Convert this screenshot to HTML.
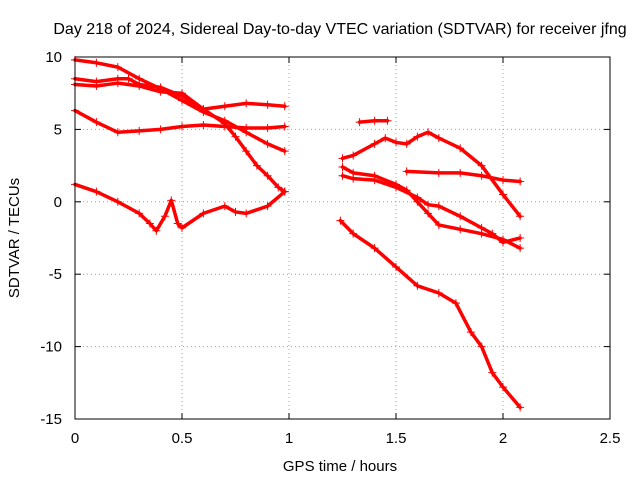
<!DOCTYPE html>
<html><head><meta charset="utf-8"><style>
body{margin:0;background:#fff}
svg{display:block;font-family:"Liberation Sans",sans-serif}
</style></head><body>
<svg id="chart" width="640" height="480" viewBox="0 0 640 480" xmlns="http://www.w3.org/2000/svg">
<rect width="640" height="480" fill="#fff"/>
<text x="340" y="34" font-size="16" text-anchor="middle">Day 218 of 2024, Sidereal Day-to-day VTEC variation (SDTVAR) for receiver jfng</text>
<text x="340" y="471" font-size="15" text-anchor="middle">GPS time / hours</text>
<text transform="translate(19,238) rotate(-90)" font-size="15" text-anchor="middle">SDTVAR / TECUs</text>
<g id="grid"></g><g id="ticks"></g><g id="marks"></g>
<rect x="75" y="57" width="535" height="362" fill="none" stroke="#000" stroke-width="1"/>
</svg>
<script>
const xTicks=[0,0.5,1,1.5,2,2.5];
const xTickLabels=["0","0.5","1","1.5","2","2.5"];
const yTicks=[-15,-10,-5,0,5,10];
const yTickLabels=["-15","-10","-5","0","5","10"];
const seriesNames=["arc-a","arc-b","arc-c","arc-d","arc-e","arc-f","arc-g","arc-h","arc-i","arc-j","arc-k"];
const seriesX=[
[0,0.1,0.2,0.3,0.4,0.5,0.6,0.7,0.8,0.9,0.98],
[0,0.1,0.2,0.25,0.3,0.4,0.5,0.6,0.7,0.75,0.8,0.85,0.9,0.95,0.98],
[0,0.1,0.2,0.3,0.4,0.5,0.6,0.7,0.8,0.9,0.98],
[0,0.1,0.2,0.3,0.4,0.5,0.6,0.7,0.8,0.9,0.98],
[0,0.1,0.2,0.3,0.35,0.38,0.42,0.45,0.48,0.5,0.6,0.7,0.75,0.8,0.9,0.98],
[1.24,1.3,1.4,1.5,1.6,1.7,1.78,1.85,1.9,1.95,2.0,2.08],
[1.25,1.3,1.4,1.45,1.5,1.55,1.6,1.65,1.7,1.8,1.9,2.0,2.08],
[1.33,1.4,1.46],
[1.55,1.7,1.8,1.9,2.0,2.08],
[1.25,1.3,1.4,1.5,1.55,1.6,1.65,1.7,1.8,1.9,2.0,2.08],
[1.25,1.3,1.4,1.5,1.6,1.65,1.7,1.8,1.9,1.95,2.0,2.08]];
const seriesY=[
[9.8,9.6,9.3,8.5,7.8,7.0,6.2,5.6,4.8,4.0,3.5],
[8.5,8.3,8.5,8.5,8.1,7.9,7.3,6.4,5.4,4.5,3.5,2.5,1.8,1.0,0.7],
[6.3,5.5,4.8,4.9,5.0,5.2,5.3,5.2,5.1,5.1,5.2],
[8.1,8.0,8.2,8.0,7.6,7.5,6.4,6.6,6.8,6.7,6.6],
[1.2,0.7,0,-0.8,-1.5,-2.0,-1.0,0.1,-1.5,-1.8,-0.8,-0.3,-0.7,-0.8,-0.3,0.7],
[-1.3,-2.2,-3.2,-4.5,-5.8,-6.3,-7.0,-9.0,-10,-11.8,-12.8,-14.2],
[3.0,3.2,4.0,4.4,4.1,4.0,4.5,4.8,4.4,3.7,2.5,0.5,-1.0],
[5.5,5.6,5.6],
[2.1,2.0,2.0,1.8,1.5,1.4],
[2.4,2.0,1.8,1.2,0.8,0,-0.8,-1.6,-1.9,-2.2,-2.6,-3.2],
[1.8,1.6,1.5,1.0,0.3,-0.2,-0.3,-1.0,-1.8,-2.2,-2.8,-2.5]];
const NS="http://www.w3.org/2000/svg";
const X0=75,X1=610,Y0=419,Y1=57;
function sx(v){return X0+(v-0)/(2.5-0)*(X1-X0);}
function sy(v){return Y0-(v+15)/25*(Y0-Y1);}
function mk(t,a,p){const e=document.createElementNS(NS,t);for(const k in a)e.setAttribute(k,a[k]);p.appendChild(e);return e;}
const grid=document.getElementById('grid'),ticks=document.getElementById('ticks'),marks=document.getElementById('marks');
xTicks.forEach((v,i)=>{const x=sx(v);
 if(i>0&&i<xTicks.length-1){const g=mk('line',{x1:x,x2:x,y1:Y1,y2:Y0,stroke:'#a0a0a0','stroke-dasharray':'1,3'},grid);
 
 }
 mk('line',{x1:x,x2:x,y1:Y0,y2:Y0-6,stroke:'#000'},ticks);mk('line',{x1:x,x2:x,y1:Y1,y2:Y1+6,stroke:'#000'},ticks);
 const t=mk('text',{x:x,y:Y0+24,'font-size':15,'text-anchor':'middle'},ticks);t.textContent=xTickLabels[i];
 
 });
yTicks.forEach((v,i)=>{const y=sy(v);
 if(i>0&&i<yTicks.length-1){const g=mk('line',{x1:X0,x2:X1,y1:y,y2:y,stroke:'#a0a0a0','stroke-dasharray':'1,3'},grid);
 
 }
 mk('line',{x1:X0,x2:X0+6,y1:y,y2:y,stroke:'#000'},ticks);mk('line',{x1:X1,x2:X1-6,y1:y,y2:y,stroke:'#000'},ticks);
 const t=mk('text',{x:X0-13,y:y+5,'font-size':15,'text-anchor':'end'},ticks);t.textContent=yTickLabels[i];
 
 });
seriesX.forEach((xs,s)=>{const ys=seriesY[s];
 const g=mk('g',{},marks);
 
 
 mk('polyline',{points:xs.map((x,i)=>sx(x)+','+sy(ys[i])).join(' '),fill:'none',stroke:'#ff0000','stroke-width':3.5,'stroke-linejoin':'round','stroke-linecap':'round'},g);
 xs.forEach((x,i)=>{const cx=sx(x),cy=sy(ys[i]);
  const p=mk('path',{d:`M${cx-4},${cy}H${cx+4}M${cx},${cy-4}V${cy+4}`,stroke:'#ff0000','stroke-width':1},g);
  
  });});
</script>
</body></html>
